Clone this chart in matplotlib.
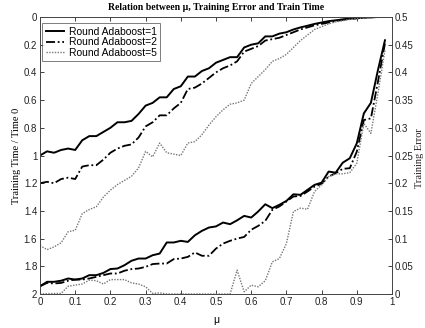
import numpy as np
import matplotlib
matplotlib.use("Agg")
import matplotlib.pyplot as plt

# mu sampled every 0.02
mu = np.round(np.arange(0, 0.99, 0.02), 2)

# Training Time / Time 0 (left axis, inverted)
time_r1 = [1.00, 0.97, 0.98, 0.96, 0.95, 0.96, 0.89, 0.86, 0.86, 0.83,
           0.80, 0.76, 0.76, 0.75, 0.70, 0.64, 0.62, 0.58, 0.58, 0.52,
           0.50, 0.43, 0.43, 0.39, 0.37, 0.33, 0.31, 0.29, 0.29, 0.22,
           0.20, 0.19, 0.14, 0.14, 0.12, 0.11, 0.09, 0.075, 0.063, 0.05,
           0.04, 0.03, 0.024, 0.017, 0.012, 0.007, 0.005, 0.002, 0.0, 0.0]
time_r2 = [1.20, 1.19, 1.20, 1.17, 1.16, 1.17, 1.08, 1.07, 1.07, 1.03,
           0.98, 0.95, 0.93, 0.92, 0.87, 0.79, 0.76, 0.71, 0.71, 0.66,
           0.62, 0.52, 0.51, 0.48, 0.44, 0.40, 0.37, 0.35, 0.32, 0.25,
           0.23, 0.21, 0.17, 0.16, 0.15, 0.13, 0.11, 0.09, 0.075, 0.06,
           0.05, 0.04, 0.03, 0.02, 0.015, 0.01, 0.005, 0.002, 0.0, 0.0]
time_r5 = [1.65, 1.68, 1.66, 1.63, 1.55, 1.54, 1.42, 1.39, 1.37, 1.30,
           1.25, 1.21, 1.18, 1.15, 1.09, 0.97, 1.01, 0.91, 0.98, 0.99,
           1.00, 0.91, 0.90, 0.85, 0.78, 0.72, 0.67, 0.63, 0.62, 0.60,
           0.48, 0.43, 0.38, 0.32, 0.30, 0.27, 0.22, 0.17, 0.13, 0.09,
           0.07, 0.05, 0.035, 0.027, 0.017, 0.012, 0.007, 0.005, 0.002, 0.0]

# Training Error (right axis)
err_r1 = [0.014, 0.022, 0.022, 0.024, 0.028, 0.026, 0.028, 0.034, 0.034, 0.038,
          0.045, 0.046, 0.052, 0.060, 0.064, 0.064, 0.070, 0.073, 0.093, 0.093,
          0.096, 0.094, 0.106, 0.114, 0.120, 0.122, 0.129, 0.126, 0.133, 0.141,
          0.138, 0.149, 0.162, 0.155, 0.161, 0.168, 0.180, 0.179, 0.188, 0.197,
          0.201, 0.221, 0.219, 0.237, 0.245, 0.272, 0.326, 0.345, 0.404, 0.458]
err_r2 = [0.014, 0.020, 0.019, 0.020, 0.024, 0.026, 0.026, 0.028, 0.031, 0.034,
          0.037, 0.037, 0.042, 0.045, 0.046, 0.049, 0.054, 0.055, 0.055, 0.063,
          0.064, 0.067, 0.075, 0.069, 0.069, 0.082, 0.091, 0.096, 0.100, 0.103,
          0.116, 0.123, 0.132, 0.152, 0.158, 0.167, 0.176, 0.177, 0.185, 0.194,
          0.199, 0.212, 0.218, 0.226, 0.227, 0.257, 0.314, 0.317, 0.383, 0.452]
err_r5 = [0.0, 0.0005, 0.001, 0.001, 0.014, 0.016, 0.018, 0.025, 0.024, 0.018,
          0.026, 0.026, 0.026, 0.020, 0.018, 0.013, 0.001, 0.002, 0.0, 0.0,
          0.0, 0.0, 0.0, 0.0, 0.0, 0.0, 0.0, 0.0, 0.043, 0.004,
          0.016, 0.013, 0.024, 0.058, 0.064, 0.091, 0.149, 0.155, 0.153, 0.185,
          0.197, 0.212, 0.217, 0.217, 0.219, 0.236, 0.308, 0.290, 0.362, 0.440]

labels = ["Round Adaboost=1", "Round Adaboost=2", "Round Adaboost=5"]

plt.rcParams["font.family"] = ["Liberation Sans", "DejaVu Sans"]
plt.rcParams["xtick.direction"] = "in"
plt.rcParams["ytick.direction"] = "in"

fig = plt.figure(figsize=(4.25, 3.28), dpi=100)
ax1 = fig.add_axes([40 / 425, 34 / 328, 352 / 425, 277 / 328])
ax2 = ax1.twinx()

styles = [dict(color="black", ls="-", lw=1.4),
          dict(color="black", ls=(0, (5, 1.5, 1, 1.5)), lw=1.3),
          dict(color="#777777", ls=(0, (1, 1)), lw=1.0)]

for t, lab, st in zip([time_r1, time_r2, time_r5], labels, styles):
    ax1.plot(mu, t, label=lab, **st)
for e, st in zip([err_r1, err_r2, err_r5], styles):
    ax2.plot(mu, e, **st)

ax1.set_xlim(0, 1)
ax1.set_ylim(2, 0)
ax2.set_ylim(0, 0.5)
ax1.set_xticks(np.arange(0, 1.01, 0.1))
ax1.set_xticklabels(["0", "0.1", "0.2", "0.3", "0.4", "0.5", "0.6", "0.7", "0.8", "0.9", "1"])
ax1.set_yticks(np.arange(0, 2.01, 0.2))
ax1.set_yticklabels(["0", "0.2", "0.4", "0.6", "0.8", "1", "1.2", "1.4", "1.6", "1.8", "2"])
ax2.set_yticks(np.arange(0, 0.501, 0.05))
ax2.set_yticklabels(["0", "0.05", "0.1", "0.15", "0.2", "0.25", "0.3", "0.35", "0.4", "0.45", "0.5"])

ax1.tick_params(axis="x", top=True, labelsize=7, length=3, width=0.6, pad=2, colors="#222222")
ax1.tick_params(axis="y", labelsize=7, length=3, width=0.6, pad=2, colors="#222222")
ax2.tick_params(axis="y", labelsize=7, length=3, width=0.6, pad=2, colors="#222222")
for ax in (ax1, ax2):
    for sp in ax.spines.values():
        sp.set_linewidth(0.6)
        sp.set_color("#444444")

ax1.set_xlabel("\u03bc", fontsize=7.5, labelpad=6)
ax1.set_ylabel("Training Time / Time 0", fontsize=7.5, family="Liberation Serif", labelpad=2)
fig.text(424 / 425, 1 - 158 / 328, "Training Error", rotation=90, ha="right", va="center",
         fontsize=7.5, family="Liberation Serif", color="#222222")
ax1.set_title("Relation between \u03bc, Training Error and Train Time", fontsize=7,
              family="Liberation Serif", fontweight="bold", pad=5)

leg = ax1.legend(loc="upper left", bbox_to_anchor=(2 / 352, 1 - 6 / 277), fontsize=7.5,
                 frameon=True, fancybox=False, borderpad=0.35, labelspacing=0.05,
                 handlelength=1.8, handletextpad=0.4, borderaxespad=0)
leg.get_frame().set_edgecolor("#444444")
leg.get_frame().set_linewidth(0.6)

fig.savefig("out.png", dpi=100)
